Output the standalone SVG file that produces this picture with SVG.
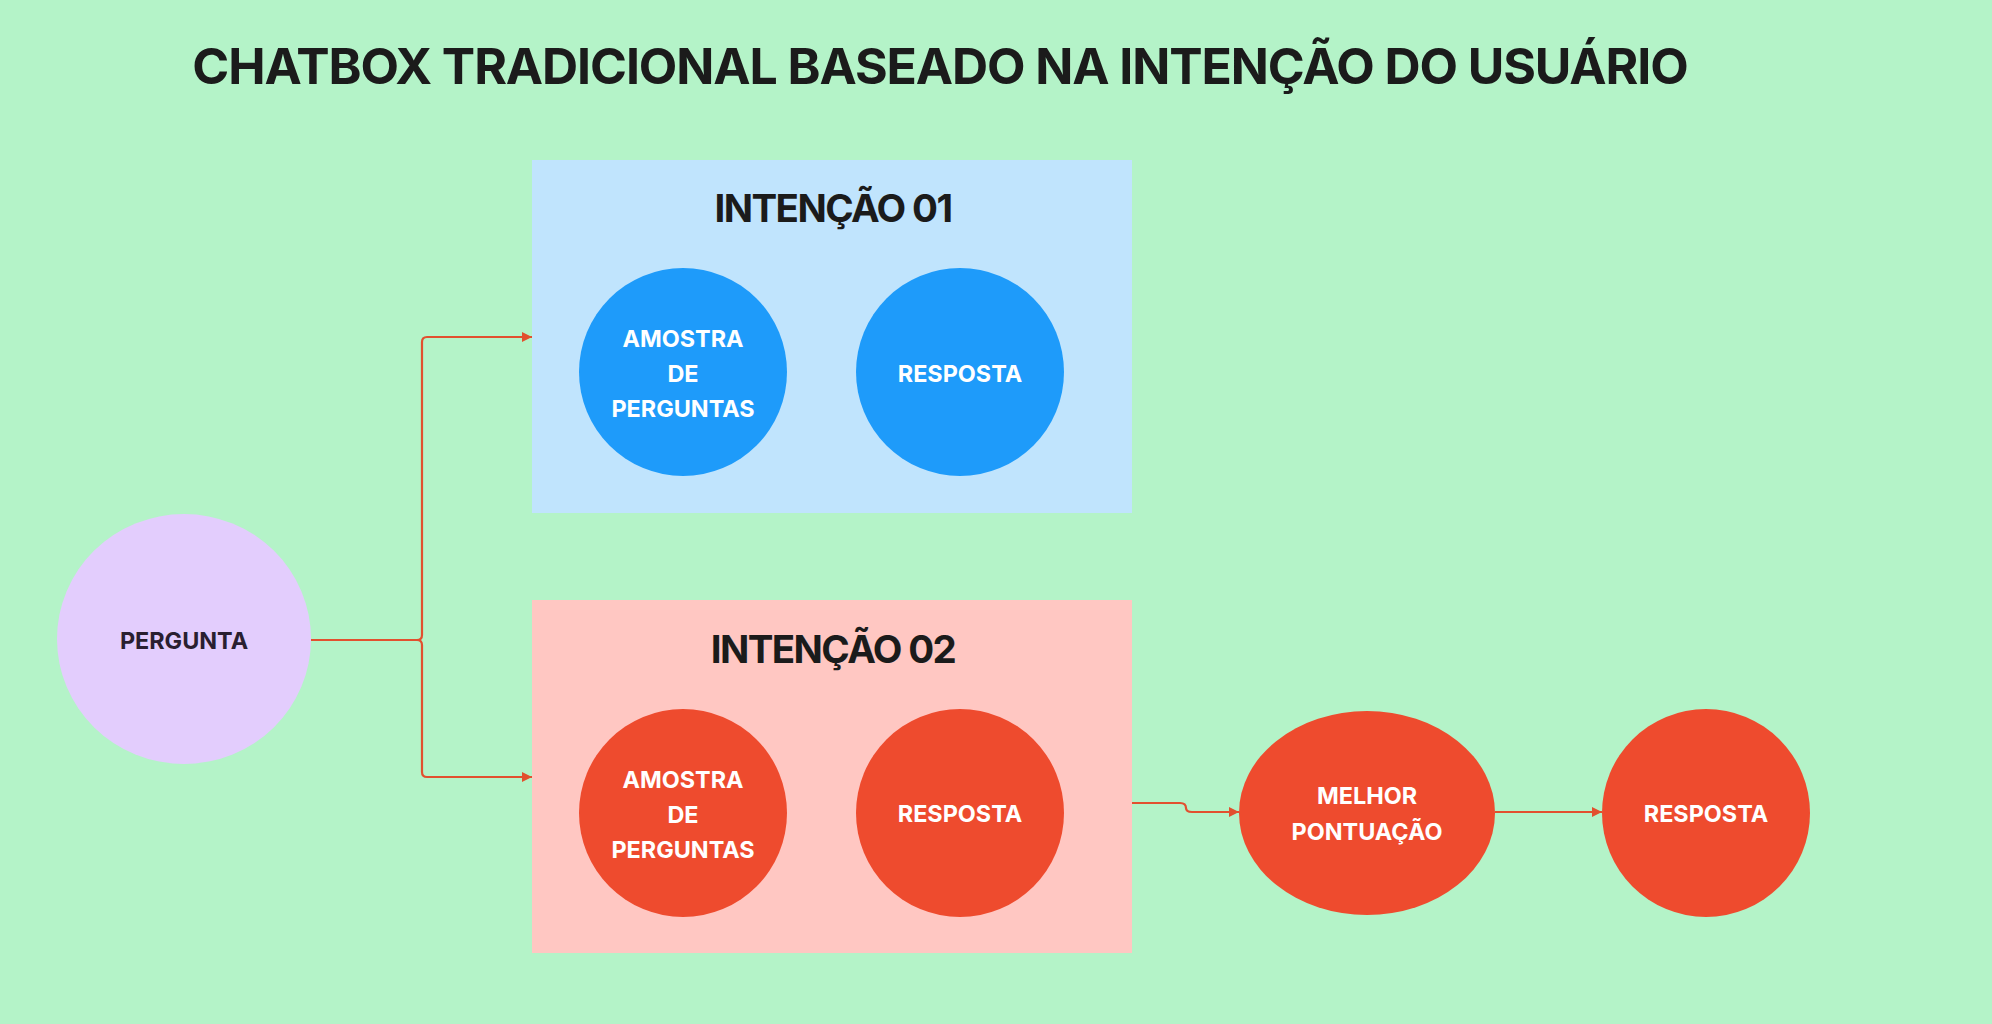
<svg xmlns="http://www.w3.org/2000/svg" width="1992" height="1024" viewBox="0 0 1992 1024">
<defs>
<style>
.t{font-family:Inter,"Noto Sans","Liberation Sans",sans-serif;font-weight:700;text-anchor:middle}
.w{fill:#ffffff;font-size:23.4px}
.h{fill:#1b1b1b;font-size:38.5px;letter-spacing:-1.6px}
.c{fill:none;stroke:#E2502F;stroke-width:2.2}
</style>
<marker id="ah" viewBox="0 0 10 10" refX="10" refY="5" markerWidth="10" markerHeight="10" markerUnits="userSpaceOnUse" orient="auto">
<path d="M0,0 L10,5 L0,10 Z" fill="#E2502F"/>
</marker>
</defs>
<rect x="0" y="0" width="1992" height="1024" fill="#B4F3C8"/>
<text class="t" x="940" y="84" style="font-size:50px;letter-spacing:-1.1px;fill:#1b1b1b">CHATBOX TRADICIONAL BASEADO NA INTENÇÃO DO USUÁRIO</text>

<g id="intencao01">
<rect x="532" y="160" width="600" height="353" fill="#C0E4FD"/>
<text class="t h" x="833" y="222">INTENÇÃO 01</text>
</g>
<g id="intencao02">
<rect x="532" y="600" width="600" height="353" fill="#FFC7C2"/>
<text class="t h" x="833" y="663">INTENÇÃO 02</text>
</g>

<g id="connectors">
<path class="c" d="M311,640 H417 Q422,640 422,635 V342 Q422,337 427,337 H532" marker-end="url(#ah)"/>
<path class="c" d="M417,640 Q422,640 422,645 V772 Q422,777 427,777 H532" marker-end="url(#ah)"/>
<path class="c" d="M1132,803 H1180 Q1186,803 1186,808 Q1186,812 1192,812 H1239" marker-end="url(#ah)"/>
<path class="c" d="M1495,812 H1602" marker-end="url(#ah)"/>
</g>

<g id="pergunta">
<ellipse cx="184" cy="639" rx="127" ry="125" fill="#E3CDFD"/>
<text class="t" x="184" y="649" style="font-size:23.4px;fill:#2a1f30">PERGUNTA</text>
</g>
<g id="amostra1">
<circle cx="683" cy="372" r="104" fill="#1E9BFA"/>
<text class="t w" x="683" y="347">AMOSTRA</text>
<text class="t w" x="683" y="382">DE</text>
<text class="t w" x="683" y="417">PERGUNTAS</text>
</g>
<g id="resposta1">
<circle cx="960" cy="372" r="104" fill="#1E9BFA"/>
<text class="t w" x="960" y="382">RESPOSTA</text>
</g>
<g id="amostra2">
<circle cx="683" cy="813" r="104" fill="#EE4B2E"/>
<text class="t w" x="683" y="788">AMOSTRA</text>
<text class="t w" x="683" y="823">DE</text>
<text class="t w" x="683" y="858">PERGUNTAS</text>
</g>
<g id="resposta2">
<circle cx="960" cy="813" r="104" fill="#EE4B2E"/>
<text class="t w" x="960" y="822">RESPOSTA</text>
</g>
<g id="melhor">
<ellipse cx="1367" cy="813" rx="128" ry="102" fill="#EE4B2E"/>
<text class="t w" x="1367" y="804">MELHOR</text>
<text class="t w" x="1367" y="840">PONTUAÇÃO</text>
</g>
<g id="resposta3">
<circle cx="1706" cy="813" r="104" fill="#EE4B2E"/>
<text class="t w" x="1706" y="822">RESPOSTA</text>
</g>
</svg>
